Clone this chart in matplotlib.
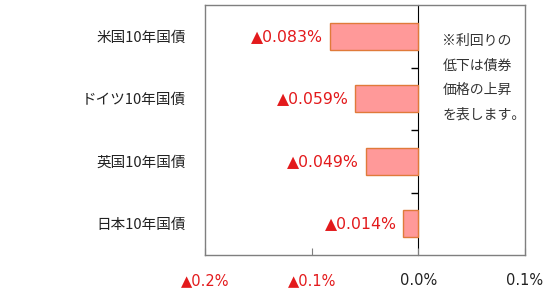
import matplotlib.pyplot as plt

plt.rcParams['font.family'] = ['Noto Sans CJK JP', 'DejaVu Sans']

# data
categories = ["米国10年国債", "ドイツ10年国債", "英国10年国債", "日本10年国債"]
changes = [-0.083, -0.059, -0.049, -0.014]
x_ticks = [-0.2, -0.1, 0.0, 0.1]
x_tick_labels = ["▲0.2%", "▲0.1%", "0.0%", "0.1%"]
note = "※利回りの\n低下は債券\n価格の上昇\nを表します。"

RED = "#e31a1c"
GRAY = "#7f7f7f"
NUM_FONT = ['DejaVu Sans', 'Noto Sans CJK JP']

fig = plt.figure(figsize=(5.5, 2.93), dpi=100)
ax = fig.add_axes([205 / 550, 1 - 255 / 293, 320 / 550, 250 / 293])

ypos = list(range(len(categories)))
ax.barh(ypos, changes, height=0.43, color="#ff9999",
        edgecolor="#e07a3a", linewidth=1.0, zorder=2)

# value labels
for y, v in zip(ypos, changes):
    ax.text(v - 0.0065, y, f"▲{abs(v):.3f}%", ha="right", va="center",
            color=RED, fontsize=11.3, family=NUM_FONT)

ax.set_xlim(-0.2, 0.1)
ax.set_ylim(3.5, -0.5)

ax.set_yticks(ypos)
ax.set_yticklabels(categories, fontsize=10.5, color="#222222")
ax.tick_params(axis="y", length=0, pad=14)

ax.set_xticks(x_ticks)
ax.set_xticklabels(x_tick_labels, fontsize=10.5, family=NUM_FONT)
ax.tick_params(axis="x", direction="in", length=5, color=GRAY, pad=13)
for lbl, v in zip(ax.get_xticklabels(), x_ticks):
    lbl.set_color(RED if v < 0 else "#222222")

for sp in ax.spines.values():
    sp.set_color(GRAY)
    sp.set_linewidth(1.0)

# zero line with category-boundary ticks
zero_frac = (0 - x_ticks[0]) / (x_ticks[-1] - x_ticks[0])
sec = ax.secondary_yaxis(zero_frac)
sec.spines["left"].set_color("black")
sec.spines["left"].set_linewidth(1.8)
sec.set_yticks([0.5, 1.5, 2.5])
sec.set_yticklabels([])
sec.tick_params(direction="in", length=5, width=1.0, color="black")

ax.text(0.0226, -0.03, note, ha="left", va="top", fontsize=10,
        color="#333333", linespacing=1.95)

fig.savefig("out.png", dpi=100)
